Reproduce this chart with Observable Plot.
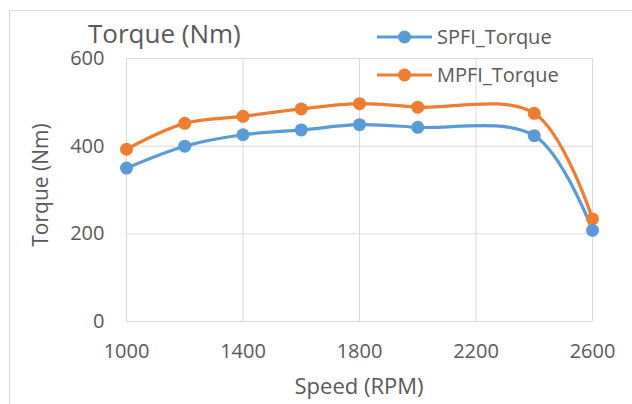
<!DOCTYPE html>
<html>
<head>
<meta charset="utf-8">
<script src="https://cdn.jsdelivr.net/npm/d3@7"></script>
<script src="https://cdn.jsdelivr.net/npm/@observablehq/plot@0.6"></script>
<style>
  html, body { margin: 0; padding: 0; background: #fff; }
  #wrap { position: relative; width: 632px; height: 404px; overflow: hidden;
          font-family: "Open Sans", sans-serif; color: #595959; }
  #border { position: absolute; left: 9px; top: 10px; width: 700px; height: 500px;
            border: 1px solid #d9d9d9; box-sizing: border-box; }
  #chart { position: absolute; left: 0; top: 0; }
  .lbl { position: absolute; line-height: 1; white-space: nowrap; }
  #title { left: 88px; top: 20px; font-size: 26px; }
  #xlabel { left: 359px; top: 374px; font-size: 22px; transform: translateX(-50%); }
  #ylabel { left: 39.5px; top: 185px; font-size: 21px; transform: translate(-50%, -50%) rotate(-90deg); }
  .leg { position: absolute; left: 376px; height: 20px; display: flex; align-items: center; }
  .leg span { font-size: 20px; line-height: 1; margin-left: 4px; }
</style>
</head>
<body>
<div id="wrap">
  <div id="border"></div>
  <div id="chart"></div>
  <div id="title" class="lbl">Torque (Nm)</div>
  <div id="xlabel" class="lbl">Speed (RPM)</div>
  <div id="ylabel" class="lbl">Torque (Nm)</div>
</div>
<script>
const speed = [1000, 1200, 1400, 1600, 1800, 2000, 2400, 2600];
const spfiTorque = [350, 400, 426, 437, 449, 443, 424, 208];
const mpfiTorque = [393, 452, 468, 485, 497, 489, 475, 234];
const seriesNames = ["SPFI_Torque", "MPFI_Torque"];
const seriesColors = ["#5B9BD5", "#ED7D31"];
const xTicks = [1000, 1400, 1800, 2200, 2600];
const yTicks = [0, 200, 400, 600];

const spfi = speed.map((s, i) => ({speed: s, torque: spfiTorque[i], series: seriesNames[0]}));
const mpfi = speed.map((s, i) => ({speed: s, torque: mpfiTorque[i], series: seriesNames[1]}));

const chart = Plot.plot({
  width: 632,
  height: 404,
  marginLeft: 126,
  marginRight: 40,
  marginTop: 58,
  marginBottom: 83,
  style: {fontFamily: "Open Sans, sans-serif", fontSize: "20px", color: "#595959", background: "transparent", overflow: "visible"},
  x: {domain: [1000, 2600], label: null},
  y: {domain: [0, 600], label: null},
  color: {domain: seriesNames, range: seriesColors},
  marks: [
    Plot.ruleY(yTicks, {stroke: "#d9d9d9", strokeWidth: 1}),
    Plot.ruleX(xTicks, {stroke: "#d9d9d9", strokeWidth: 1}),
    Plot.axisX({ticks: xTicks, tickSize: 0, tickPadding: 22, tickFormat: d3.format("d"), label: null, fill: "#595959"}),
    Plot.axisY({ticks: yTicks, tickSize: 0, tickPadding: 22, tickFormat: d3.format("d"), label: null, fill: "#595959"}),
    Plot.line(mpfi, {x: "speed", y: "torque", stroke: "series", strokeWidth: 3.2, curve: "catmull-rom"}),
    Plot.line(spfi, {x: "speed", y: "torque", stroke: "series", strokeWidth: 3.2, curve: "catmull-rom"}),
    Plot.dot(mpfi, {x: "speed", y: "torque", fill: "series", r: 6.5}),
    Plot.dot(spfi, {x: "speed", y: "torque", fill: "series", r: 6.5})
  ]
});
document.getElementById("chart").appendChild(chart);

// Legend
const wrap = d3.select("#wrap");
const legTops = [27, 65];
seriesNames.forEach((name, i) => {
  const row = wrap.append("div").attr("class", "leg").style("top", legTops[i] + "px");
  const svg = row.append("svg").attr("width", 57).attr("height", 20);
  svg.append("line").attr("x1", 1).attr("x2", 56).attr("y1", 10).attr("y2", 10)
     .attr("stroke", seriesColors[i]).attr("stroke-width", 3.2);
  svg.append("circle").attr("cx", 28.5).attr("cy", 10).attr("r", 6.5).attr("fill", seriesColors[i]);
  row.append("span").text(name);
});
</script>
</body>
</html>
